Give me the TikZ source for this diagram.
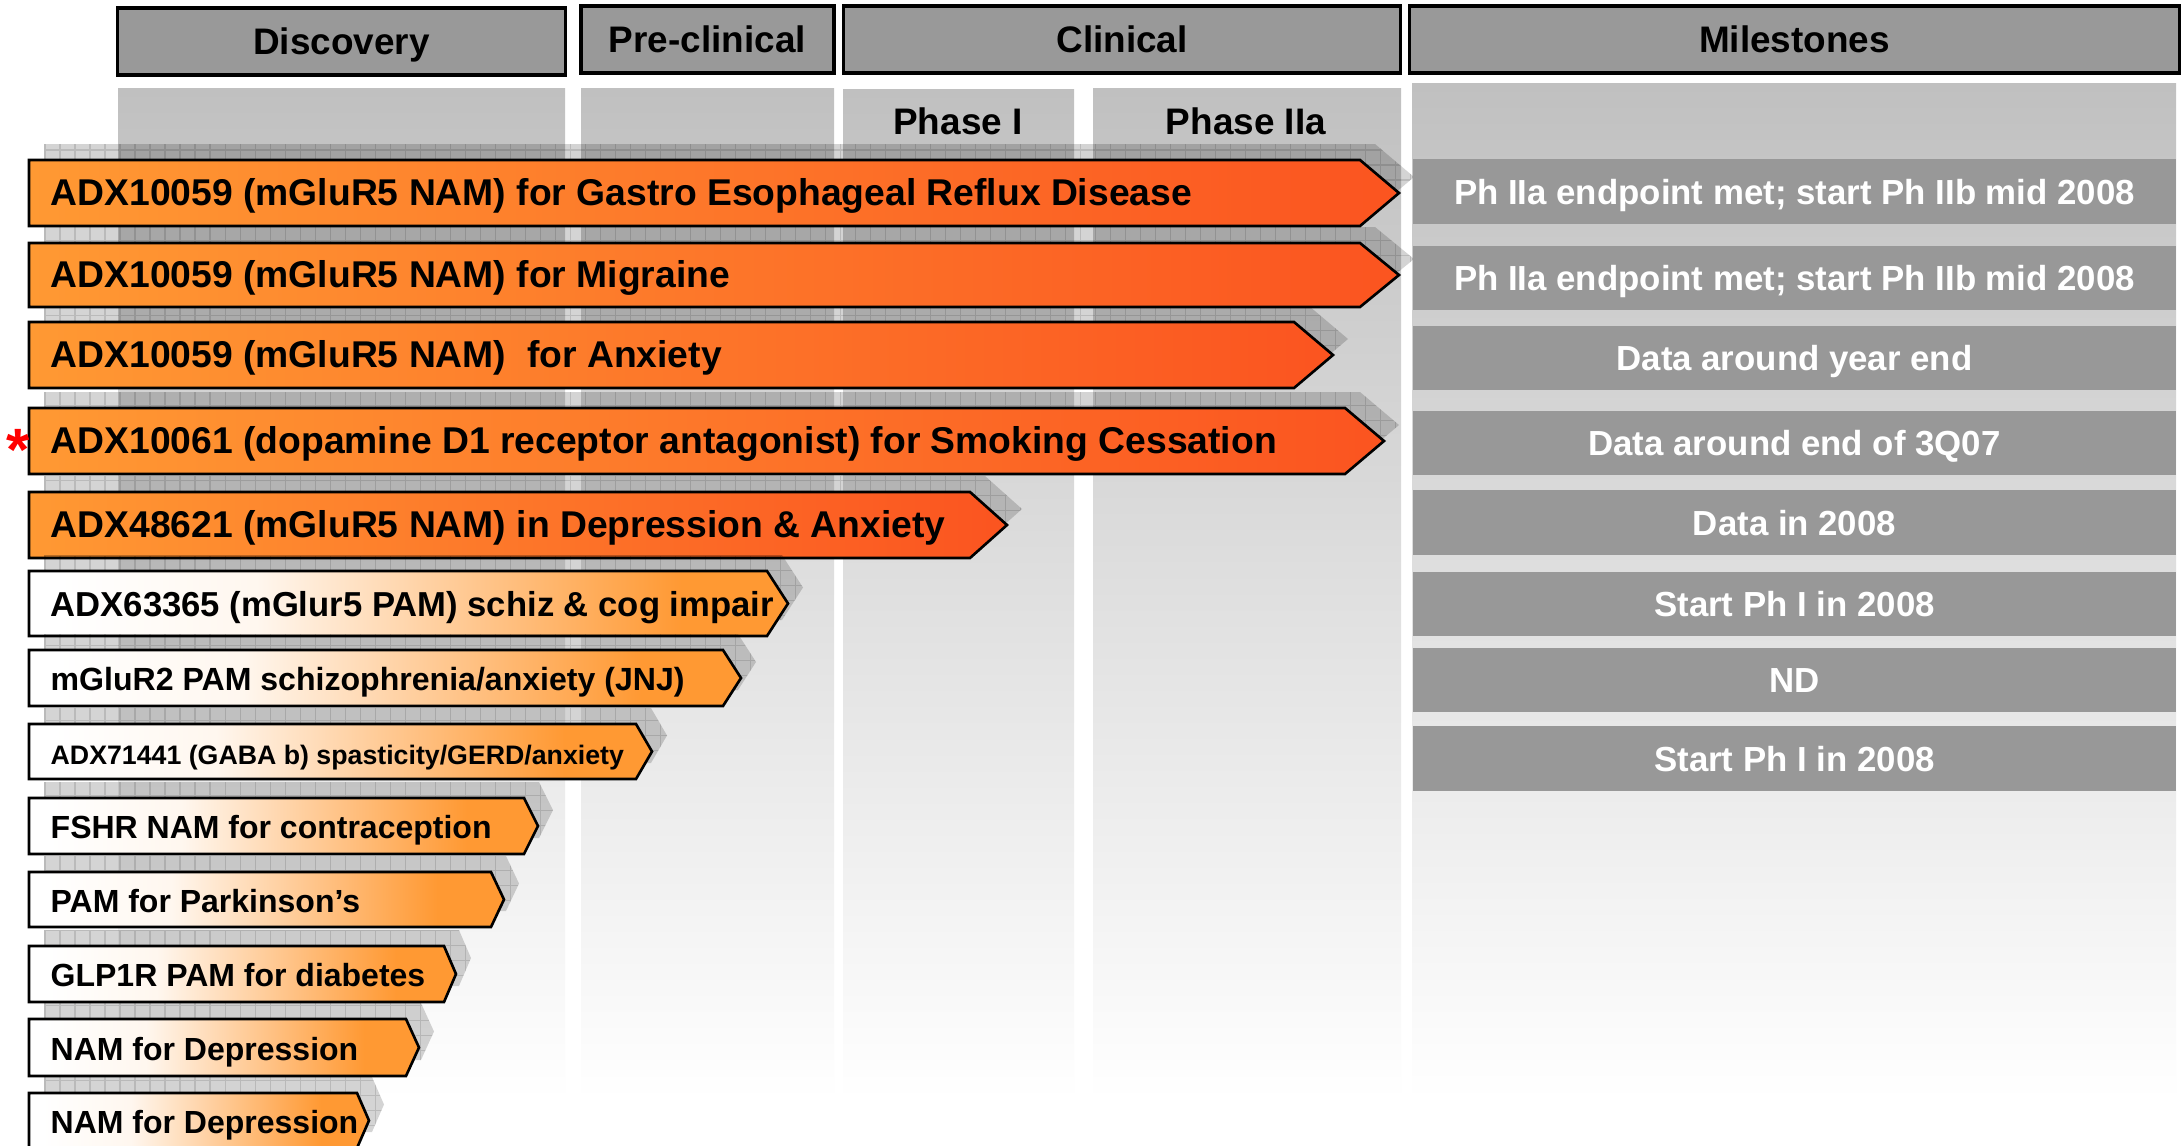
\documentclass[tikz,border=0pt]{standalone}
\usepackage{fontspec}
\setmainfont{Liberation Sans}
\definecolor{HeaderGray}{HTML}{999999}
\definecolor{PanelGray}{HTML}{C0C0C0}
\definecolor{MilestoneGray}{HTML}{989898}
\definecolor{OrangeLight}{HTML}{FF9933}
\definecolor{OrangeDeep}{HTML}{FB5420}
\pgfdeclarehorizontalshading{hotfade}{100bp}{color(0bp)=(OrangeLight); color(25bp)=(OrangeLight); color(75bp)=(OrangeDeep); color(100bp)=(OrangeDeep)}
\pgfdeclarehorizontalshading{warmfade}{100bp}{color(0bp)=(white); color(27bp)=(white); color(40bp)=(white!92!OrangeLight); color(68bp)=(OrangeLight); color(100bp)=(OrangeLight)}
\tikzset{
  cap centred/.style={text height=0.716em, text depth=0pt},
  header box/.style={
    rectangle, draw=black, line width=0.9pt, fill=HeaderGray,
    inner sep=0pt, minimum height=0.67cm, minimum width=#1,
    font=\fontsize{10.5}{12}\selectfont\bfseries, cap centred
  },
  phase label/.style={font=\fontsize{10.5}{12}\selectfont\bfseries, inner sep=0pt, cap centred},
  milestone box/.style={
    rectangle, fill=MilestoneGray, inner sep=0pt, text=white,
    minimum width=7.63cm, minimum height=0.64cm,
    font=\fontsize{9.9}{12}\selectfont\bfseries, cap centred
  },
  panel/.style={top color=PanelGray, bottom color=white},
  shadow fill/.style={fill=black, fill opacity=0.17},
  shadow grid/.style={draw=black, draw opacity=0.12, line width=0.35pt, step=0.15cm},
  pipe/.style={draw=black, line width=0.75pt, line join=miter},
  pipe label/.style={anchor=west, inner sep=0pt},
  star mark/.style={text=red, font=\fontsize{17}{17}\selectfont\bfseries, inner sep=0pt, anchor=base},
}

\begin{document}
\begin{tikzpicture}[x=0.01cm, y=-0.01cm]

  \fill[white] (0,0) rectangle (2181,1145);
  \useasboundingbox (0,0) rectangle (2181,1145);

  % ── column panels ─────────────────────────────────────────────────────────
  \shade[panel] (118,88)  rectangle (565,1100);
  \shade[panel] (581,88)  rectangle (834,1100);
  \shade[panel] (843,89)  rectangle (1074,1100);
  \shade[panel] (1093,88) rectangle (1401,1100);
  \shade[panel] (1412,83) rectangle (2176,1100);

  % ── headers ───────────────────────────────────────────────────────────────
  \node[header box=4.47cm] (discovery)  at (341.5,41.5) {Discovery};
  \node[header box=2.53cm] (preclin)    at (707.5,39.5) {Pre-clinical};
  \node[header box=5.56cm] (clinical)   at (1122,39.5)  {Clinical};
  \node[header box=7.69cm] (milestones) at (1794.5,39.5) {Milestones};

  \node[phase label] (phaseone) at (958,122)  {Phase I};
  \node[phase label] (phasetwo) at (1246,122) {Phase IIa};

  % ── pipeline arrows ───────────────────────────────────────────────────────
  \foreach \nm/\top/\bot/\tip/\dep/\kind/\fs/\lbl in {
      gerd/160/226/1399/39/hotfade/10.6/{ADX10059 (mGluR5 NAM) for Gastro Esophageal Reflux Disease},
      migraine/243/307/1399/39/hotfade/10.6/{ADX10059 (mGluR5 NAM) for Migraine},
      anxiety/322/388/1333/39/hotfade/10.6/{ADX10059 (mGluR5 NAM)\ \ for Anxiety},
      smoking/408/474/1384/39/hotfade/10.6/{ADX10061 (dopamine D1 receptor antagonist) for Smoking Cessation},
      depranx/492/558/1007/37/hotfade/10.6/{ADX48621 (mGluR5 NAM) in Depression \& Anxiety},
      schiz/571/636/788/21/warmfade/9.85/{ADX63365 (mGlur5 PAM) schiz \& cog impair},
      jnj/650/706/741/18/warmfade/9.12/{mGluR2 PAM schizophrenia/anxiety (JNJ)},
      gabab/724/779/652/16/warmfade/7.6/{ADX71441 (GABA b) spasticity/GERD/anxiety},
      fshr/798/854/538/14/warmfade/9.1/{FSHR NAM for contraception},
      parkinson/872/927/504/13/warmfade/9.1/{PAM for Parkinson’s},
      glp/946/1002/456/12/warmfade/9.1/{GLP1R PAM for diabetes},
      depone/1019/1076/419/13/warmfade/9.1/{NAM for Depression},
      deptwo/1093/1148/369/12/warmfade/9.1/{NAM for Depression}} {
    % shadow with grid
    \begin{scope}
      \clip[shift={(15,-16)}] (29,\top) -- (\tip-\dep,\top) -- (\tip,{(\top+\bot)/2})
        -- (\tip-\dep,\bot) -- (29,\bot) -- cycle;
      \fill[shadow fill] (0,0) rectangle (2181,1145);
      \draw[shadow grid] (0,0) grid (2181,1145);
    \end{scope}
    % arrow body
    \path[pipe, shading=\kind] (29,\top) -- (\tip-\dep,\top) -- (\tip,{(\top+\bot)/2})
      -- (\tip-\dep,\bot) -- (29,\bot) -- cycle;
    \node[pipe label, font=\fontsize{\fs}{12}\selectfont\bfseries, cap centred]
      (\nm) at (50,{(\top+\bot)/2}) {\lbl};
  }

  \node[star mark] (star) at (18,470) {*};

  % ── milestones ────────────────────────────────────────────────────────────
  \node[milestone box] (msone)   at (1794.5,191.5) {Ph IIa endpoint met; start Ph IIb mid 2008};
  \node[milestone box] (mstwo)   at (1794.5,278)   {Ph IIa endpoint met; start Ph IIb mid 2008};
  \node[milestone box] (msthree) at (1794.5,358)   {Data around year end};
  \node[milestone box] (msfour)  at (1794.5,443)   {Data around end of 3Q07};
  \node[milestone box] (msfive)  at (1794.5,522.5) {Data in 2008};
  \node[milestone box] (mssix)   at (1794.5,604)   {Start Ph I in 2008};
  \node[milestone box] (msseven) at (1794.5,680)   {ND};
  \node[milestone box] (mseight) at (1794.5,758.5) {Start Ph I in 2008};

\end{tikzpicture}
\end{document}
